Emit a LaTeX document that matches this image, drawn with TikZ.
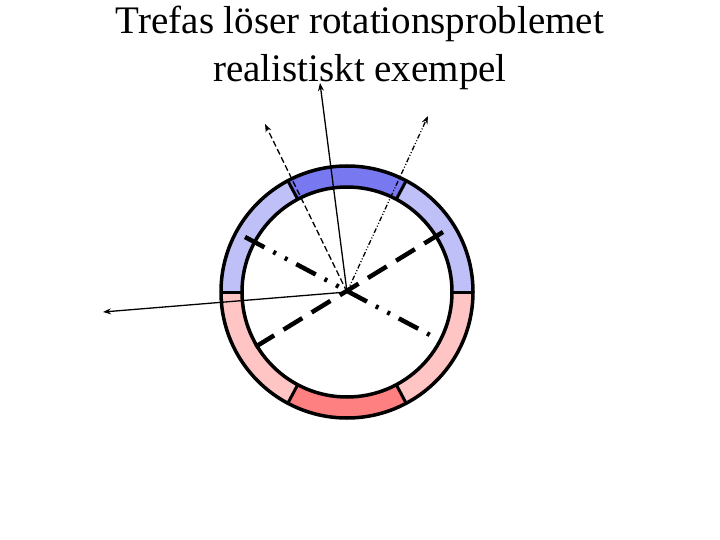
\documentclass[tikz,border=0pt]{standalone}
\usepackage{fontspec}
\setmainfont{Liberation Serif}
\usetikzlibrary{calc,arrows.meta}
\definecolor{dblue}{HTML}{7878F0}
\definecolor{lblue}{HTML}{C0C0F8}
\definecolor{dred}{HTML}{FF8080}
\definecolor{lred}{HTML}{FFC4C4}
\begin{document}
\begin{tikzpicture}[x=1pt,y=-1pt,
  arr/.style={-{Stealth[length=8pt,width=6pt]},line width=1.3pt}]
\useasboundingbox (0,0) rectangle (720,540);
\node[font=\fontsize{39}{48}\selectfont,align=center] (title) at (360,48) {Trefas löser rotationsproblemet\\realistiskt exempel};
\coordinate (c) at (347,292);
\def\ro{126}\def\ri{105}
\foreach \a/\b/\col in {62/118/dblue,0/62/lblue,118/180/lblue,180/242/lred,242/298/dred,298/360/lred}{
  \fill[\col] ($(c)+(-\a:\ro)$) arc[start angle=-\a,end angle=-\b,radius=\ro] -- ($(c)+(-\b:\ri)$) arc[start angle=-\b,end angle=-\a,radius=\ri] -- cycle;
}
\foreach \a in {0,62,118,180,242,298}{
  \draw[line width=3pt] ($(c)+(-\a:\ri)$) -- ($(c)+(-\a:\ro)$);
}
\draw[line width=3.5pt] (c) circle[radius=\ro];
\draw[line width=3.5pt] (c) circle[radius=\ri];
\coordinate (d1) at (247,352); \coordinate (d2) at (443,232);
\coordinate (e1) at (245,237); \coordinate (e2) at (432,336);
\draw[line width=4.5pt,dash pattern=on 22pt off 11pt] (d2) -- (d1);
\draw[line width=4.5pt,dash pattern=on 22pt off 10pt on 3pt off 10pt on 3pt off 10pt] (e1) -- (e2);
\coordinate (a1) at (320,83); \coordinate (a2) at (103,312);
\coordinate (a3) at (265,124); \coordinate (a4) at (428,116);
\draw[arr] (c) -- (a1);
\draw[arr] (c) -- (a2);
\draw[arr,dash pattern=on 6pt off 3pt] (c) -- (a3);
\draw[arr,dash pattern=on 5pt off 2pt on 1pt off 2pt on 1pt off 2pt] (c) -- (a4);
\end{tikzpicture}
\end{document}
